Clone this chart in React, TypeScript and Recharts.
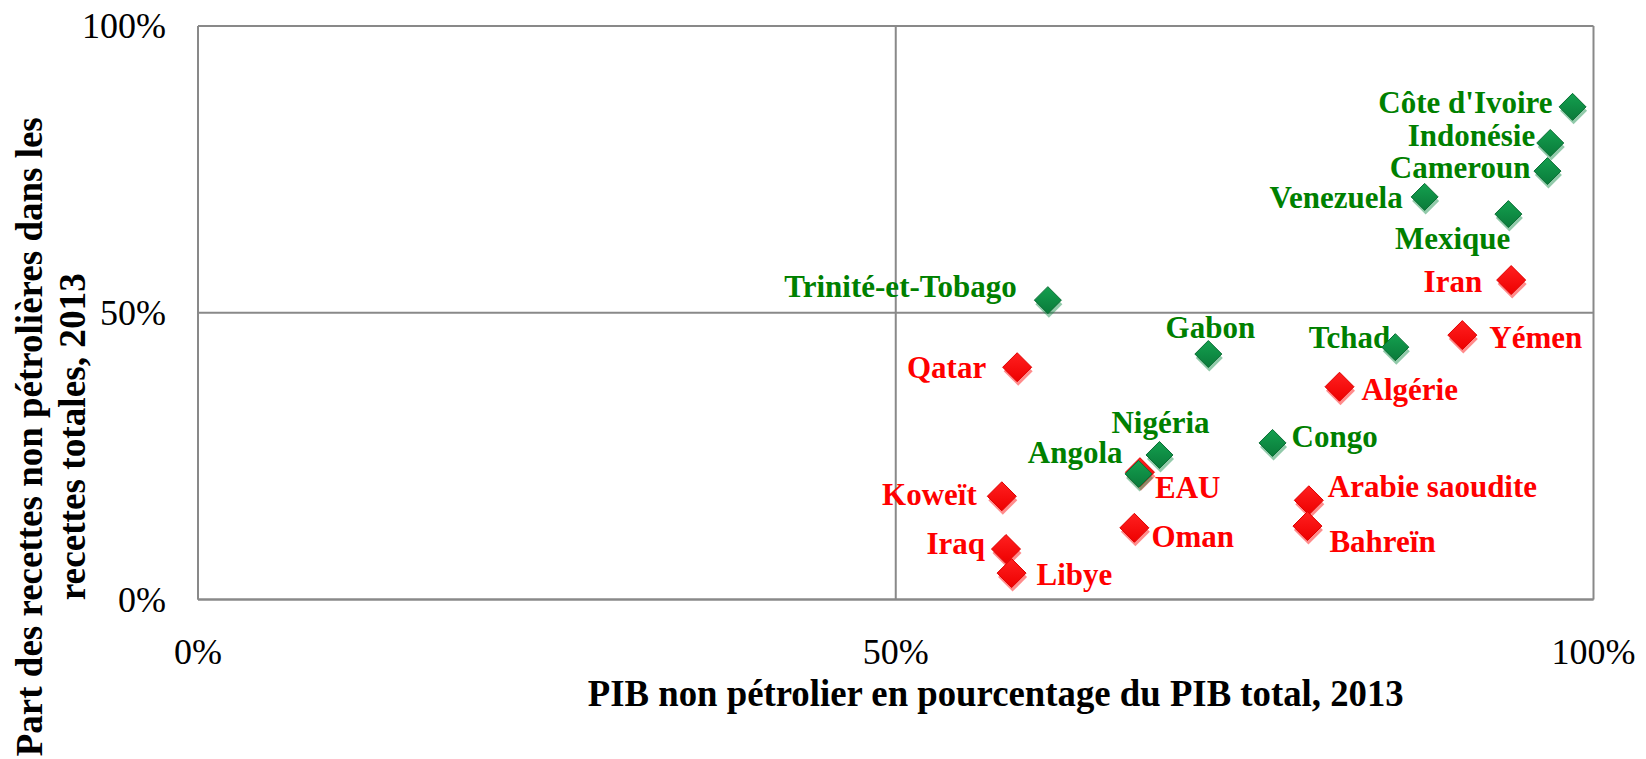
import React from "react";
import { ScatterChart, Scatter, XAxis, YAxis, CartesianGrid, Label } from "recharts";

// ---------- data ----------
const greenNames = ["Côte d'Ivoire", "Indonésie", "Cameroun", "Venezuela", "Mexique", "Tchad", "Trinité-et-Tobago", "Gabon", "Nigéria", "Angola", "Congo"];
const greenX = [98.5, 96.9, 96.7, 87.9, 93.9, 85.8, 60.9, 72.4, 68.9, 67.4, 77.0];
const greenY = [85.9, 79.6, 74.7, 70.2, 67.2, 44.0, 52.2, 42.8, 25.2, 21.9, 27.3];

const redNames = ["Iran", "Yémen", "Qatar", "Algérie", "EAU", "Koweït", "Arabie saoudite", "Bahreïn", "Oman", "Iraq", "Libye"];
const redX = [94.1, 90.6, 58.7, 81.8, 67.5, 57.6, 79.6, 79.5, 67.1, 57.9, 58.3];
const redY = [55.7, 46.1, 40.5, 37.1, 22.2, 18.0, 17.3, 12.8, 12.5, 8.8, 4.6];

const axisTicks = [0, 50, 100];
const xTitle = "PIB non pétrolier en pourcentage du PIB total, 2013";
const yTitleLines = ["Part des recettes non pétrolières dans les", "recettes totales, 2013"];

// ---------- label placement (style) ----------
type Place = { anchor: "start" | "middle" | "end"; dx: number; dy: number };
const LABEL_PLACE: Record<string, Place> = {
  "Côte d'Ivoire": { anchor: "end", dx: -20, dy: 6 },
  "Indonésie": { anchor: "end", dx: -15, dy: 3 },
  "Cameroun": { anchor: "end", dx: -17, dy: 7 },
  "Venezuela": { anchor: "end", dx: -22, dy: 11 },
  "Mexique": { anchor: "end", dx: 2, dy: 35 },
  "Iran": { anchor: "end", dx: -29, dy: 12 },
  "Tchad": { anchor: "end", dx: -5, dy: 1 },
  "Yémen": { anchor: "start", dx: 27, dy: 13 },
  "Trinité-et-Tobago": { anchor: "end", dx: -31, dy: -3 },
  "Gabon": { anchor: "middle", dx: 2, dy: -16 },
  "Qatar": { anchor: "end", dx: -31, dy: 11 },
  "Nigéria": { anchor: "middle", dx: 1, dy: -22 },
  "Angola": { anchor: "end", dx: -16, dy: -11 },
  "EAU": { anchor: "start", dx: 15, dy: 26 },
  "Congo": { anchor: "start", dx: 19, dy: 4 },
  "Koweït": { anchor: "end", dx: -25, dy: 9 },
  "Arabie saoudite": { anchor: "start", dx: 19, dy: -3 },
  "Bahreïn": { anchor: "start", dx: 22, dy: 26 },
  "Oman": { anchor: "start", dx: 17, dy: 19 },
  "Iraq": { anchor: "end", dx: -21, dy: 5 },
  "Libye": { anchor: "start", dx: 25, dy: 12 },
  "Algérie": { anchor: "start", dx: 22, dy: 13 },
};

const FONT = "'Liberation Serif', 'DejaVu Serif', serif";
const GRID = "#898989";
const GREEN_TEXT = "#008000";
const RED_TEXT = "#FF0000";

const greenData = greenNames.map((name, i) => ({ name, x: greenX[i], y: greenY[i] }));
const redData = redNames.map((name, i) => ({ name, x: redX[i], y: redY[i] }));

const diamond = (cx: number, cy: number, r: number) =>
  `M${cx},${cy - r} L${cx + r},${cy} L${cx},${cy + r} L${cx - r},${cy} Z`;

const makeShape = (kind: "green" | "red") => (props: any) => {
  const { cx, cy, payload } = props;
  if (cx == null || cy == null) return <g />;
  const r = kind === "green" ? 13.5 : 14.5;
  const base = kind === "green" ? "#0E8A43" : "#FF0000";
  const edge = kind === "green" ? "#0A6E34" : "#E00000";
  const p = LABEL_PLACE[payload.name] || { anchor: "start", dx: 18, dy: 8 };
  return (
    <g>
      <text
        x={cx + p.dx}
        y={cy + p.dy}
        textAnchor={p.anchor}
        fontFamily={FONT}
        fontWeight="bold"
        fontSize={31}
        fill={kind === "green" ? GREEN_TEXT : RED_TEXT}
      >
        {payload.name}
      </text>
      <path d={diamond(cx + 1, cy + 4, r)} fill={base} opacity={0.45} />
      <path d={diamond(cx, cy, r)} fill={`url(#grad-${kind})`} stroke={edge} strokeWidth={1} />
    </g>
  );
};

const XTick = (props: any) => {
  const { x, y, payload } = props;
  return (
    <text x={x} y={y + 56.5} textAnchor="middle" fontFamily={FONT} fontSize={36} fill="#000">
      {`${payload.value}%`}
    </text>
  );
};

const YTick = (props: any) => {
  const { y, payload } = props;
  return (
    <text x={166} y={y + 12} textAnchor="end" fontFamily={FONT} fontSize={36} fill="#000">
      {`${payload.value}%`}
    </text>
  );
};

const XTitle = (props: any) => {
  const vb = props.viewBox || {};
  const cx = vb.x + vb.width / 2 + 100;
  return (
    <text
      x={cx}
      y={706}
      textAnchor="middle"
      fontFamily={FONT}
      fontWeight="bold"
      fontSize={37}
      fill="#000"
      textLength={816}
      lengthAdjust="spacingAndGlyphs"
    >
      {xTitle}
    </text>
  );
};

const YTitle = (props: any) => {
  const vb = props.viewBox || {};
  const cy = vb.y + vb.height / 2 + 124;
  const lens = [639, 327];
  const baselines = [42, 85];
  return (
    <g>
      {yTitleLines.map((line, i) => (
        <text
          key={i}
          transform={`translate(${baselines[i]},${cy}) rotate(-90)`}
          textAnchor="middle"
          fontFamily={FONT}
          fontWeight="bold"
          fontSize={37}
          fill="#000"
          textLength={lens[i]}
          lengthAdjust="spacingAndGlyphs"
        >
          {line}
        </text>
      ))}
    </g>
  );
};

export default function App() {
  return (
    <div style={{ position: "absolute", left: 0, top: 0, width: 1646, height: 759, background: "#fff" }}>
      <ScatterChart width={1646} height={759} margin={{ top: 26, right: 52.5, bottom: 0, left: 0 }}>
        <defs>
          <linearGradient id="grad-green" x1="0" y1="0" x2="0" y2="1">
            <stop offset="0%" stopColor="#14A04F" />
            <stop offset="100%" stopColor="#0A7A3A" />
          </linearGradient>
          <linearGradient id="grad-red" x1="0" y1="0" x2="0" y2="1">
            <stop offset="0%" stopColor="#FF2020" />
            <stop offset="100%" stopColor="#EE0000" />
          </linearGradient>
        </defs>
        <CartesianGrid stroke={GRID} strokeWidth={2} />
        <XAxis
          type="number"
          dataKey="x"
          domain={[0, 100]}
          ticks={axisTicks}
          height={159.5}
          axisLine={{ stroke: GRID, strokeWidth: 2 }}
          tickLine={false}
          tick={<XTick />}
          interval={0}
        >
          <Label content={<XTitle />} />
        </XAxis>
        <YAxis
          type="number"
          dataKey="y"
          domain={[0, 100]}
          ticks={axisTicks}
          width={198}
          axisLine={{ stroke: GRID, strokeWidth: 2 }}
          tickLine={false}
          tick={<YTick />}
          interval={0}
        >
          <Label content={<YTitle />} />
        </YAxis>
        <Scatter data={redData} shape={makeShape("red")} isAnimationActive={false} />
        <Scatter data={greenData} shape={makeShape("green")} isAnimationActive={false} />
      </ScatterChart>
    </div>
  );
}
